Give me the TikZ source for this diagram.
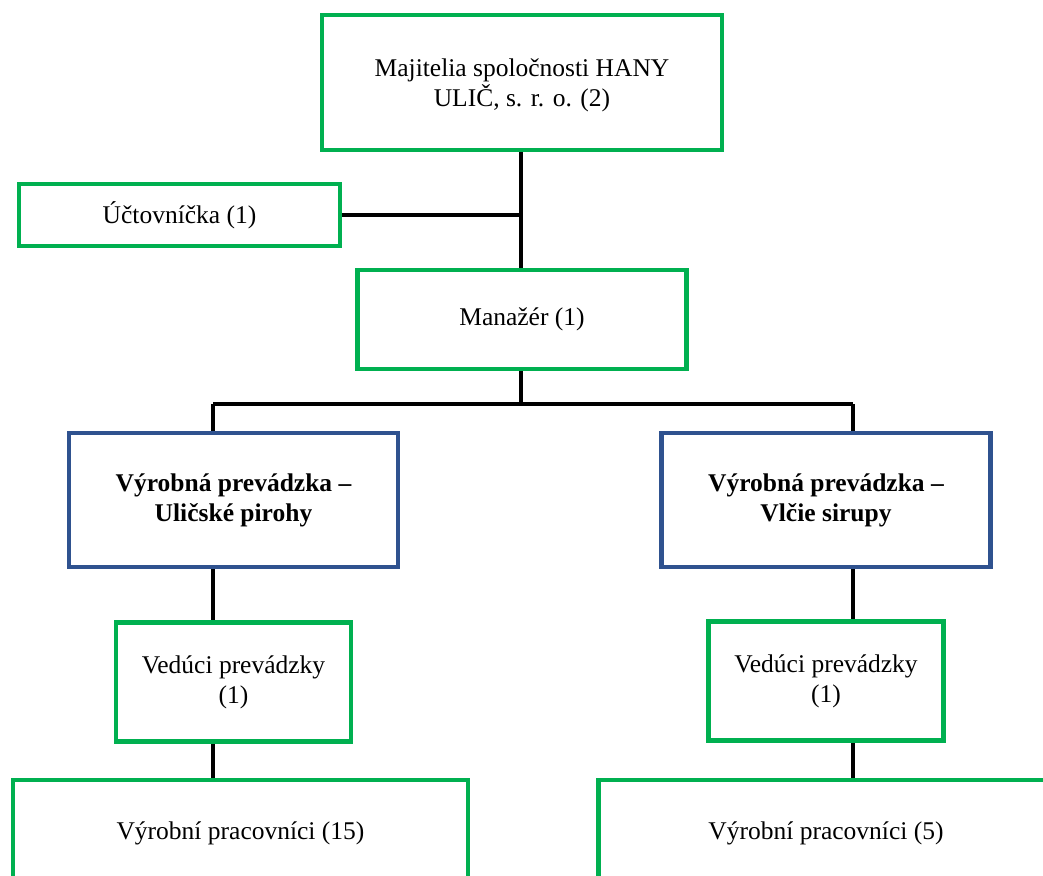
\documentclass[tikz,border=0pt]{standalone}
\usepackage{fontspec}
\setmainfont{Liberation Serif}
\usetikzlibrary{positioning}
\definecolor{staffgreen}{RGB}{0,176,80}
\definecolor{unitblue}{RGB}{47,82,143}

\begin{document}
\begin{tikzpicture}[x=1pt, y=-1pt, on grid,
    every node/.style={font=\fontsize{25.5}{30}\selectfont, align=center, inner sep=0pt},
    role/.style={draw=staffgreen, line width=4.5pt},
    unit/.style={draw=unitblue, line width=4.5pt, font=\fontsize{25.5}{30}\selectfont\bfseries,
                 minimum width=329pt, minimum height=134pt},
    link/.style={draw=black, line width=4.5pt}]
    \useasboundingbox (0,0) rectangle (1043,875);
    \clip (0,0) rectangle (1043,875);

    \node[role, minimum width=400pt, minimum height=135pt, text depth=-4pt] (owner) at (522,82.5) {Majitelia spoločnosti HANY\\ULIČ, s. r. o. (2)};
    \node[role, minimum width=321pt, minimum height=62pt] (acct) at (179.5,215) {Účtovníčka (1)};
    \node[role, minimum width=329pt, minimum height=99pt] (mgr) [below=237pt of owner] {Manažér (1)};

    \node[unit] (prodL) at (233.5,500) {Výrobná prevádzka –\\Uličské pirohy};
    \node[unit] (prodR) [right=592.5pt of prodL] {Výrobná prevádzka –\\Vlčie sirupy};

    \node[role, minimum width=235pt, minimum height=119pt] (leadL) [below=182pt of prodL] {Vedúci prevádzky\\(1)};
    \node[role, minimum width=235pt, minimum height=119pt] (leadR) [below=181pt of prodR] {Vedúci prevádzky\\(1)};

    \node[role, minimum width=455pt, minimum height=106pt] (workL) at (240.5,833) {Výrobní pracovníci (15)};
    \node[role, minimum width=455pt, minimum height=106pt] (workR) [below=152pt of leadR] {Výrobní pracovníci (5)};

    % connectors
    \coordinate (split) at (521,404);
    \coordinate (tapL) at (213,404);
    \coordinate (tapR) at (853,404);

    \path[link]
        (owner.south -| split) -- (mgr.north -| split)
        (acct.east) -- (acct.east -| split)
        (mgr.south -| split) -- (split)
        (tapL) -- (tapR)
        (tapL) -- (prodL.north -| tapL)
        (tapR) -- (prodR.north -| tapR)
        (prodL.south -| tapL) -- (leadL.north -| tapL)
        (prodR.south -| tapR) -- (leadR.north -| tapR)
        (leadL.south -| tapL) -- (workL.north -| tapL)
        (leadR.south -| tapR) -- (workR.north -| tapR);
\end{tikzpicture}
\end{document}
